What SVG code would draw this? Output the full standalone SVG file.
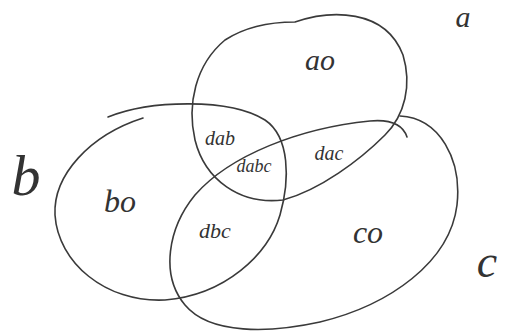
<svg xmlns="http://www.w3.org/2000/svg" width="511" height="332" viewBox="0 0 511 332">
<style>
.set{fill:none;stroke:#3a3a3a;stroke-width:1.6;stroke-linecap:round;stroke-linejoin:round}
text{font-family:"Liberation Serif","DejaVu Serif",serif;font-style:italic;fill:#333;text-anchor:middle}
</style>
<rect width="511" height="332" fill="#fff"/>
<g id="set-a">
<path class="set" d="M295,22 C330,10 385,8 403,55 C412,85 405,115 385,135 C360,160 320,190 283,200 C240,205 205,180 195,140 C187,105 195,65 225,40 C245,27 270,22 295,22"/>
<text x="463" y="27" font-size="30">a</text>
<text x="320" y="70" font-size="30">ao</text>
</g>
<g id="set-b">
<path class="set" d="M108,117 C150,100 230,98 265,120 C290,137 290,180 280,215 C268,255 225,295 165,300 C105,303 58,262 55,215 C53,175 90,135 143,118"/>
<text x="26" y="195" font-size="58">b</text>
<text x="120" y="212" font-size="32">bo</text>
</g>
<g id="set-c">
<path class="set" d="M400,116 C440,118 462,160 457,205 C450,262 390,305 320,322 C270,333 210,335 185,305 C160,275 168,228 195,195 C230,155 300,128 370,121 C392,119 403,125 407,137"/>
<text x="487" y="277" font-size="46">c</text>
<text x="368" y="243" font-size="32">co</text>
</g>
<g id="intersections">
<text x="220" y="145" font-size="20">dab</text>
<text x="254" y="172" font-size="18">dabc</text>
<text x="329" y="160" font-size="20">dac</text>
<text x="215" y="238" font-size="22">dbc</text>
</g>
</svg>
